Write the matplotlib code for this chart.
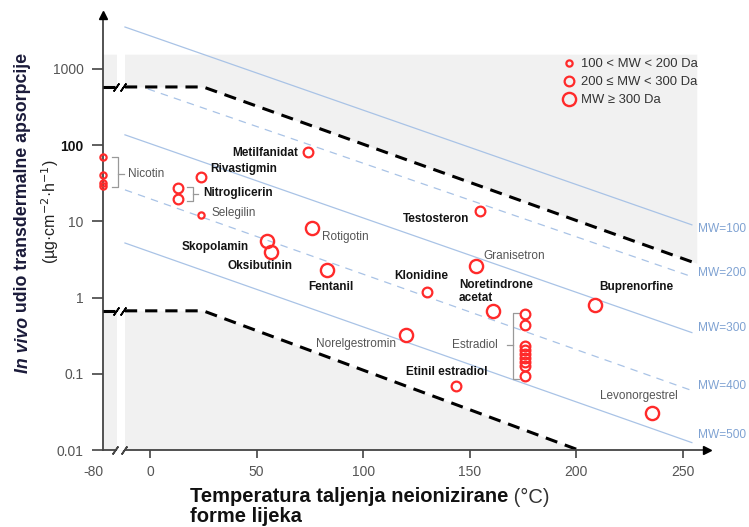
import numpy as np
import matplotlib
matplotlib.use('Agg')
import matplotlib.pyplot as plt
from matplotlib.lines import Line2D

plt.rcParams['font.family'] = ['Liberation Sans', 'DejaVu Sans']

# drug data: melting point (deg C), in vivo flux (ug cm-2 h-1), MW class (0: <200, 1: 200-300, 2: >=300)
nicotin_mp = [-79, -79, -79, -79]
nicotin_flux = [70, 40, 32, 29]
estradiol_mp = [176] * 9
estradiol_flux = [0.615, 0.44, 0.234, 0.208, 0.184, 0.162, 0.143, 0.125, 0.093]
drug_names = ["Rivastigmin", "Nitroglicerin", "Nitroglicerin", "Selegilin", "Metilfanidat",
              "Rotigotin", "Skopolamin", "Oksibutinin", "Fentanil", "Testosteron",
              "Granisetron", "Klonidine", "Noretindrone acetat", "Buprenorfine",
              "Norelgestromin", "Etinil estradiol", "Levonorgestrel"]
drug_mp = [24, 13, 13, 24, 74, 76, 55, 57, 83, 155, 153, 130, 161, 209, 120, 143.5, 235.6]
drug_flux = [38, 27.8, 19.8, 12.2, 81, 8.2, 5.6, 4.0, 2.3, 13.5, 2.6, 1.2, 0.67, 0.81, 0.32, 0.07, 0.031]
drug_mwclass = [1, 1, 1, 0, 1, 2, 2, 2, 2, 1, 2, 1, 2, 2, 2, 1, 2]

# iso-MW lines (start/end)
mw_labels = ["MW=100", "MW=200", "MW=300", "MW=400", "MW=500"]
mw_t_start = [-11.7, -1, -11.7, -11.7, -11.7]
mw_t_end = [254.2, 254.2, 254.2, 254.2, 254.2]
mw_j_start = [3548, 547, 136.5, 25.9, 5.2]
mw_j_end = [9.0, 1.88, 0.347, 0.0603, 0.0125]
mw_label_j = [8.0, 2.12, 0.404, 0.0686, 0.0156]

# upper / lower limit lines
upper_t = [-80, 25, 255.6]
upper_j = [580, 580, 2.85]
lower_t = [-80, 25, 201]
lower_j = [0.67, 0.67, 0.01]

legend_labels = ["100 < MW < 200 Da", "200 \u2264 MW < 300 Da", "MW \u2265 300 Da"]

RED = '#ff2a2a'
BLUE = '#a9c3e6'
BLUE_TXT = '#7fa2d2'
GRAY_FILL = '#f1f1f1'
AX_COL = '#444444'
ms_by_class = [4.5, 7, 9.5]
mew_by_class = [1.6, 1.6, 1.7]


def fwd(t):
    t = np.asarray(t, dtype=float)
    return np.where(t < -20, -20 + (t + 20) / 30.0, t)


def inv(p):
    p = np.asarray(p, dtype=float)
    return np.where(p < -20, -20 + (p + 20) * 30.0, p)


fig = plt.figure(figsize=(7.49, 5.27), dpi=100)
ax = fig.add_axes([103 / 749, 77 / 527, 604 / 749, 435 / 527])
ax.set_xscale('function', functions=(fwd, inv))
ax.set_yscale('log')
XMAX = 261.3
YMAX = 5100
ax.set_xlim(-80, XMAX)
ax.set_ylim(0.01, YMAX)

# grey regions
ax.fill_between([-80, 25, 256.5], [580, 580, 2.82], 1560, color=GRAY_FILL, lw=0, zorder=0)
ax.fill_between(lower_t, 0.01, lower_j, color=GRAY_FILL, lw=0, zorder=0)
ax.axvspan(-15.5, -11.7, color='white', lw=0, zorder=0.5)

# iso-MW lines
for i in range(len(mw_labels)):
    style = dict(color=BLUE, lw=0.9, zorder=1)
    if i in (1, 3):
        style['dashes'] = (6, 5)
    ax.plot([mw_t_start[i], mw_t_end[i]], [mw_j_start[i], mw_j_end[i]], **style)
    ax.text(257, mw_label_j[i], mw_labels[i], color=BLUE_TXT, fontsize=8.6, va='center', ha='left')

# black limit lines with axis break
for lt, lj in [(upper_t, upper_j), (lower_t, lower_j)]:
    ax.plot([-80, -16.4], [lj[0], lj[0]], color='black', lw=2.2, solid_capstyle='butt', zorder=3)
    ax.plot([-11.7] + lt[1:], [lj[0]] + lj[1:], color='black', lw=2.2, dashes=(4, 2.6), zorder=3)
    ax.plot([-15.8, -12.4], [lj[0], lj[0]], ls='none', marker=(2, 2, -35), ms=7, mew=1.2,
            color='black', zorder=3)

# data points
ax.plot(nicotin_mp, nicotin_flux, ls='none', marker='o', mfc='none', mec=RED,
        ms=ms_by_class[0], mew=mew_by_class[0], zorder=4, clip_on=False)
ax.plot(estradiol_mp, estradiol_flux, ls='none', marker='o', mfc='none', mec=RED,
        ms=ms_by_class[1], mew=mew_by_class[1], zorder=4)
for t, j, c in zip(drug_mp, drug_flux, drug_mwclass):
    ax.plot(t, j, ls='none', marker='o', mfc='none', mec=RED,
            ms=ms_by_class[c], mew=mew_by_class[c], zorder=4)

# drug labels: (text, T, J, ha, bold)
labels = [
    ("Nicotin", -10.3, 42, 'left', False),
    ("Rivastigmin", 28.1, 48.9, 'left', True),
    ("Nitroglicerin", 24.9, 23.7, 'left', True),
    ("Selegilin", 29.1, 13, 'left', False),
    ("Metilfanidat", 69.4, 80, 'right', True),
    ("Rotigotin", 80.7, 6.28, 'left', False),
    ("Skopolamin", 15, 4.65, 'left', True),
    ("Oksibutinin", 36.6, 2.62, 'left', True),
    ("Fentanil", 74.1, 1.38, 'left', True),
    ("Testosteron", 149.6, 10.8, 'right', True),
    ("Granisetron", 156.2, 3.54, 'left', False),
    ("Klonidine", 114.4, 1.94, 'left', True),
    ("Noretindrone\nacetat", 145, 1.19, 'left', True),
    ("Buprenorfine", 210.6, 1.39, 'left', True),
    ("Norelgestromin", 77.9, 0.247, 'left', False),
    ("Etinil estradiol", 120.1, 0.104, 'left', True),
    ("Estradiol", 141.6, 0.237, 'left', False),
    ("Levonorgestrel", 211, 0.0507, 'left', False),
]
for txt, t, j, ha, bold in labels:
    ax.text(t, j, txt, ha=ha, va='center', fontsize=8.5,
            fontweight='bold' if bold else 'normal',
            color='#141414' if bold else '#555555', linespacing=1.1, zorder=5)

# brackets
BR = dict(color='#999999', lw=0.9, zorder=3)
ax.plot([-17.8, -15, -15, -17.8], [70, 70, 28, 28], **BR)
ax.plot([-15, -12.2], [42, 42], **BR)
ax.plot([17.5, 20, 20, 17.5], [28.5, 28.5, 18.7, 18.7], **BR)
ax.plot([20, 22.5], [23.2, 23.2], **BR)
ax.plot([173, 170.3, 170.3, 173], [0.63, 0.63, 0.085, 0.085], **BR)
ax.plot([170.3, 167.5], [0.237, 0.237], **BR)

# axes styling
for s in ['top', 'right', 'bottom']:
    ax.spines[s].set_visible(False)
ax.spines['left'].set_color(AX_COL)
ax.spines['left'].set_linewidth(1.3)
ax.plot([-80, -16.4], [0.01, 0.01], color=AX_COL, lw=1.3, clip_on=False, zorder=3)
ax.plot([-11.7, XMAX], [0.01, 0.01], color=AX_COL, lw=1.3, clip_on=False, zorder=3)
ax.plot([-16.2, -12.2], [0.01, 0.01], ls='none', marker=(2, 2, -35), ms=7, mew=1.2,
        color=AX_COL, clip_on=False, zorder=3)
ax.plot([XMAX], [0.01], marker='>', ms=6, color='black', clip_on=False, zorder=4)
ax.plot([-80], [YMAX], marker='^', ms=6, color='black', clip_on=False, zorder=4)

ax.set_xticks([-80, 0, 50, 100, 150, 200, 250])
ax.set_xticklabels(['-80', '0', '50', '100', '150', '200', '250'])
ax.xaxis.set_minor_locator(matplotlib.ticker.NullLocator())
ax.tick_params(axis='x', direction='out', length=6, width=1.2, colors=AX_COL,
               labelcolor='#555555', labelsize=10, pad=5)
ax.get_xticklines()[0].set_visible(False)
ax.get_xticklabels()[0].set_ha('right')

ax.set_yticks([0.01, 0.1, 1, 10, 100, 1000])
ax.set_yticklabels(['0.01', '0.1', '1', '10', '100', '1000'])
ax.yaxis.set_minor_locator(matplotlib.ticker.NullLocator())
ax.tick_params(axis='y', direction='out', length=8, width=1.2, colors=AX_COL,
               labelcolor='#555555', labelsize=10, pad=6)
ax.get_yticklabels()[4].set_fontweight('bold')
ax.get_yticklabels()[4].set_color('#111111')

# legend
handles = [Line2D([], [], ls='none', marker='o', mfc='none', mec=RED,
                  ms=ms_by_class[k], mew=mew_by_class[k]) for k in range(3)]
leg = ax.legend(handles, legend_labels, loc='upper left', bbox_to_anchor=(553 / 749, 1 - 49 / 527),
                bbox_transform=fig.transFigure, frameon=False, fontsize=9.4,
                handlelength=1.0, handletextpad=0.45, labelspacing=0.45, borderpad=0.2)
for t in leg.get_texts():
    t.set_color('#333333')

# axis labels
ytxt = fig.text(23 / 749, 1 - 373 / 527, "In vivo", rotation=90, ha='center', va='bottom',
                fontsize=12.8, fontweight='bold', fontstyle='italic', color='#1b1b3a')
ax.annotate(" udio transdermalne apsorpcije", xy=(0.5, 1), xycoords=ytxt, rotation=90,
            ha='center', va='bottom', fontsize=12.8, fontweight='bold', color='#1b1b3a',
            annotation_clip=False)
fig.text(50 / 749, 1 - 212 / 527, r"(µg·cm$^{-2}$·h$^{-1}$)", rotation=90, ha='center',
         va='center', fontsize=11.5, color='#222222')

xtxt = fig.text(190 / 749, 1 - 497 / 527, "Temperatura taljenja neionizirane", ha='left',
                va='center', fontsize=14.5, fontweight='bold', color='#111111')
ax.annotate(" (°C)", xy=(1, 0.5), xycoords=xtxt, ha='left', va='center', fontsize=14.5,
            color='#333333', annotation_clip=False)
fig.text(190 / 749, 1 - 517 / 527, "forme lijeka", ha='left', va='center', fontsize=14.5,
         fontweight='bold', color='#111111')

fig.savefig('out.png', dpi=100)
